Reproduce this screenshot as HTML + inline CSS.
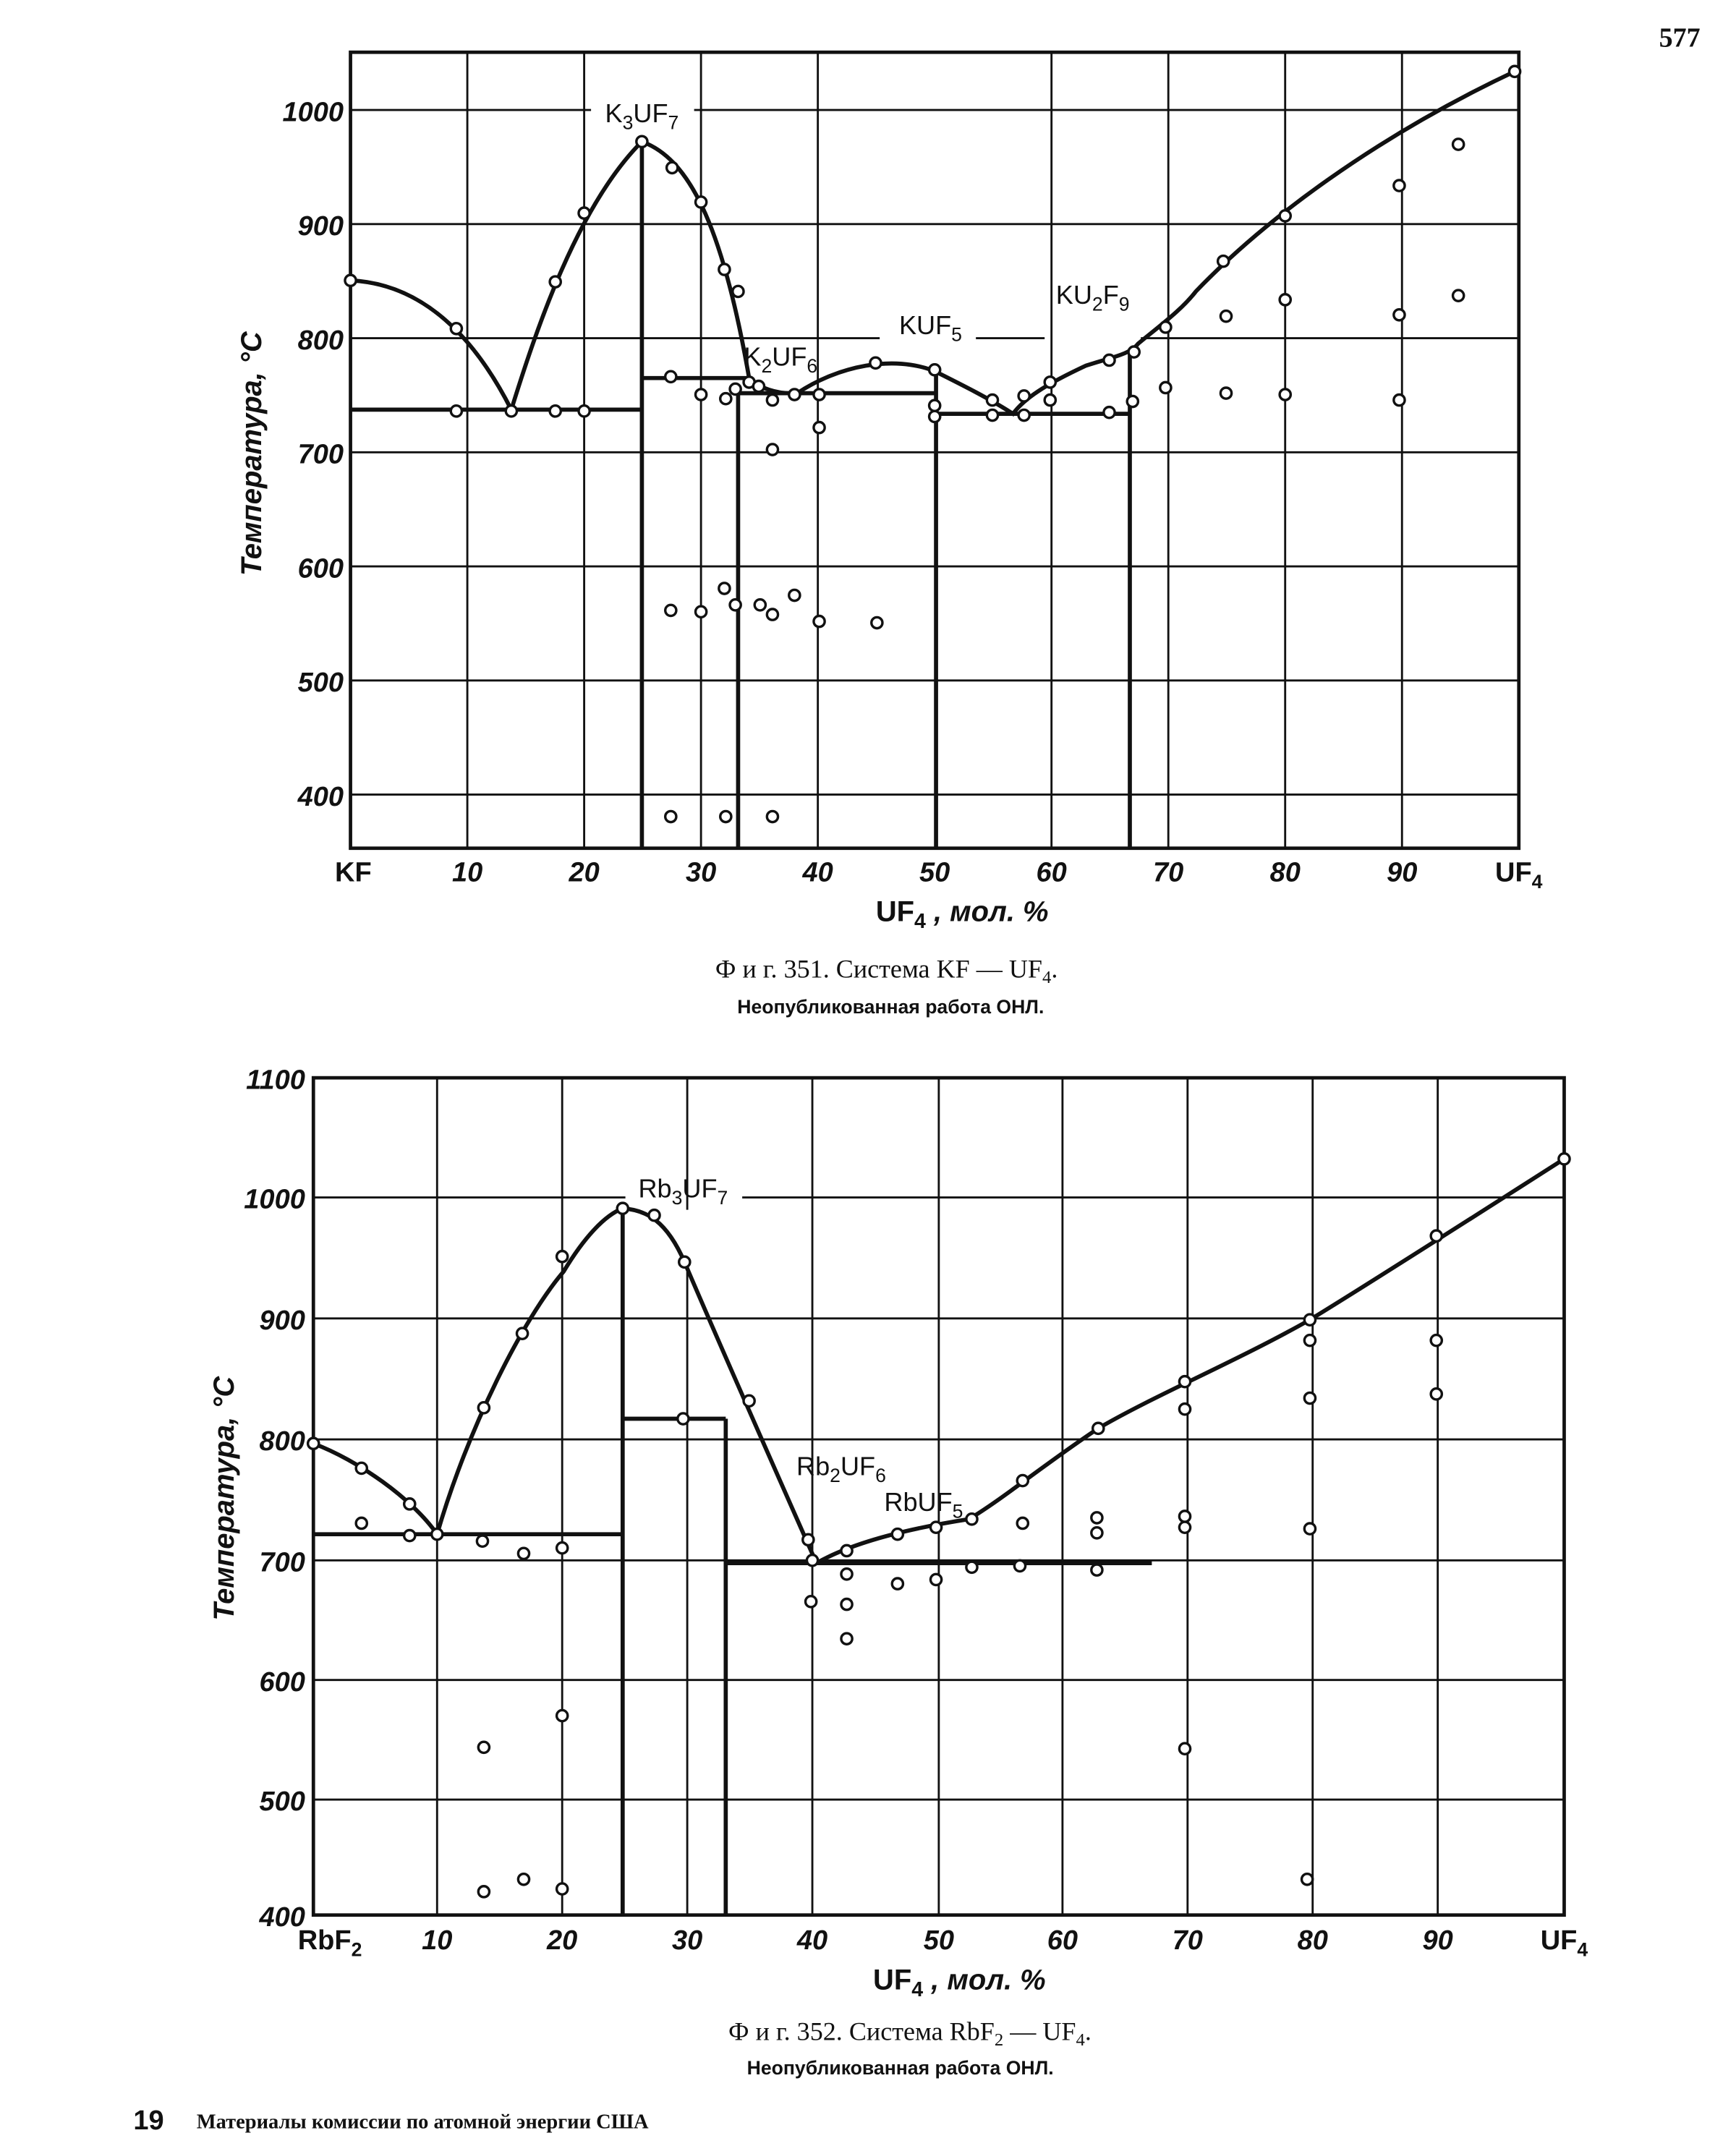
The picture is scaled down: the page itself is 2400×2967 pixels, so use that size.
<!DOCTYPE html>
<html><head><meta charset="utf-8"><style>
html,body{margin:0;padding:0;background:#fff}
svg{display:block}
text{font-family:"Liberation Sans",sans-serif;fill:#111}
.t{font-size:20px;font-style:italic;font-weight:bold}
.s{font-family:"Liberation Serif",serif}
</style></head><body>
<svg width="2400" height="2967" viewBox="0 0 1263 1561" preserveAspectRatio="none" xmlns="http://www.w3.org/2000/svg">
<rect width="1263" height="1561" fill="#fff"/>
<text x="1222" y="34" class="s" font-size="20" font-weight="bold" text-anchor="middle">577</text>
<!-- TOP CHART -->
<g stroke="#111" fill="none">
<rect x="255" y="38" width="850" height="579" stroke-width="2.5"/>
<g stroke-width="1.5">
<path d="M340 38V617M425 38V617M510 38V617M595 38V617M765 38V617M850 38V617M935 38V617M1020 38V617"/>
<path d="M255 80H430M505 80H1105M255 163H1105M255 246H640M710 246H760M830 246H1105M255 329H1105M255 412H1105M255 495H1105M255 578H1105"/>
</g>
<g stroke-width="3">
<path d="M255 204C300 206 340 235 372 298"/>
<path d="M372 298C390 240 420 150 467 103C500 115 525 160 545 275C552 282 565 287 580 286C610 266 650 258 680 270C700 280 720 290 737 301C745 290 760 280 790 266C808 260 822 258 828 250C845 236 860 225 870 212C920 160 1000 100 1102 52"/>
<path d="M255 298H467M467 275H545M537 286H681M681 301H822"/>
<path d="M467 103V617M537 286V617M681 269V617M822 256V617"/>
</g>
</g>
<g fill="#fff" stroke="#111" stroke-width="1.8">
<circle cx="255" cy="204" r="4"/><circle cx="332" cy="239" r="4"/><circle cx="332" cy="299" r="4"/><circle cx="372" cy="299" r="4"/><circle cx="404" cy="299" r="4"/><circle cx="425" cy="299" r="4"/><circle cx="404" cy="205" r="4"/><circle cx="425" cy="155" r="4"/><circle cx="467" cy="103" r="4"/><circle cx="489" cy="122" r="4"/><circle cx="510" cy="147" r="4"/><circle cx="527" cy="196" r="4"/><circle cx="537" cy="212" r="4"/><circle cx="488" cy="274" r="4"/><circle cx="510" cy="287" r="4"/><circle cx="528" cy="290" r="4"/><circle cx="535" cy="283" r="4"/><circle cx="545" cy="278" r="4"/><circle cx="552" cy="281" r="4"/><circle cx="562" cy="291" r="4"/><circle cx="578" cy="287" r="4"/><circle cx="596" cy="287" r="4"/><circle cx="596" cy="311" r="4"/><circle cx="562" cy="327" r="4"/><circle cx="637" cy="264" r="4"/><circle cx="680" cy="269" r="4"/><circle cx="680" cy="295" r="4"/><circle cx="680" cy="303" r="4"/><circle cx="722" cy="291" r="4"/><circle cx="722" cy="302" r="4"/><circle cx="745" cy="288" r="4"/><circle cx="745" cy="302" r="4"/><circle cx="764" cy="278" r="4"/><circle cx="764" cy="291" r="4"/><circle cx="807" cy="262" r="4"/><circle cx="807" cy="300" r="4"/><circle cx="825" cy="256" r="4"/><circle cx="824" cy="292" r="4"/><circle cx="848" cy="238" r="4"/><circle cx="848" cy="282" r="4"/><circle cx="890" cy="190" r="4"/><circle cx="892" cy="230" r="4"/><circle cx="892" cy="286" r="4"/><circle cx="935" cy="157" r="4"/><circle cx="935" cy="218" r="4"/><circle cx="935" cy="287" r="4"/><circle cx="1018" cy="135" r="4"/><circle cx="1018" cy="229" r="4"/><circle cx="1018" cy="291" r="4"/><circle cx="1061" cy="105" r="4"/><circle cx="1061" cy="215" r="4"/><circle cx="1102" cy="52" r="4"/>
<circle cx="488" cy="444" r="4"/><circle cx="510" cy="445" r="4"/><circle cx="527" cy="428" r="4"/><circle cx="535" cy="440" r="4"/><circle cx="553" cy="440" r="4"/><circle cx="562" cy="447" r="4"/><circle cx="578" cy="433" r="4"/><circle cx="596" cy="452" r="4"/><circle cx="638" cy="453" r="4"/><circle cx="488" cy="594" r="4"/><circle cx="528" cy="594" r="4"/><circle cx="562" cy="594" r="4"/>
</g>
<g class="t" text-anchor="end">
<text x="250" y="88">1000</text><text x="250" y="171">900</text><text x="250" y="254">800</text><text x="250" y="337">700</text><text x="250" y="420">600</text><text x="250" y="503">500</text><text x="250" y="586">400</text>
</g>
<g class="t" text-anchor="middle">
<text x="257" y="641" font-style="normal">KF</text><text x="340" y="641">10</text><text x="425" y="641">20</text><text x="510" y="641">30</text><text x="595" y="641">40</text><text x="680" y="641">50</text><text x="765" y="641">60</text><text x="850" y="641">70</text><text x="935" y="641">80</text><text x="1020" y="641">90</text><text x="1105" y="641" font-style="normal">UF<tspan font-size="14" dy="5">4</tspan></text>
</g>
<text x="700" y="670" font-size="21" font-weight="bold" text-anchor="middle">UF<tspan font-size="15" dy="5">4</tspan><tspan dy="-5" font-style="italic"> , мол. %</tspan></text>
<text transform="translate(190,330) rotate(-90)" font-size="21" font-style="italic" font-weight="bold" text-anchor="middle">Температура, °C</text>
<text x="467" y="89" font-size="19" text-anchor="middle">K<tspan font-size="14" dy="5">3</tspan><tspan dy="-5">UF</tspan><tspan font-size="14" dy="5">7</tspan></text>
<text x="568" y="266" font-size="19" text-anchor="middle">K<tspan font-size="14" dy="5">2</tspan><tspan dy="-5">UF</tspan><tspan font-size="14" dy="5">6</tspan></text>
<text x="677" y="243" font-size="19" text-anchor="middle">KUF<tspan font-size="14" dy="5">5</tspan></text>
<text x="795" y="221" font-size="19" text-anchor="middle">KU<tspan font-size="14" dy="5">2</tspan><tspan dy="-5">F</tspan><tspan font-size="14" dy="5">9</tspan></text>
<text x="645" y="711" class="s" font-size="19" text-anchor="middle">Ф и г. 351. Система KF — UF<tspan font-size="13" dy="4">4</tspan><tspan dy="-4">.</tspan></text>
<text x="648" y="737" font-size="14" font-weight="bold" text-anchor="middle">Неопубликованная работа ОНЛ.</text>
<!-- BOTTOM CHART -->
<g stroke="#111" fill="none">
<rect x="228" y="784" width="910" height="609" stroke-width="2.5"/>
<g stroke-width="1.5">
<path d="M318 784V1393M409 784V1393M500 784V880M500 925V1393M591 784V1393M683 784V1393M773 784V1393M864 784V1393M955 784V1393M1046 784V1393"/>
<path d="M228 871H455M540 871H1138M228 959H1138M228 1047H1138M228 1135H1138M228 1222H1138M228 1309H1138"/>
</g>
<g stroke-width="3">
<path d="M228 1050C260 1062 300 1090 318 1116"/>
<path d="M318 1116C340 1040 380 960 410 925C425 900 440 884 453 879C470 880 485 888 498 918C520 970 560 1060 594 1137C620 1122 660 1112 705 1105C730 1090 760 1065 799 1039C840 1015 900 990 953 960C1010 925 1080 880 1138 843"/>
<path d="M228 1116H453M453 1032H528M528 1137H838"/>
<path d="M453 879V1393M528 1032V1393"/>
</g>
</g>
<g fill="#fff" stroke="#111" stroke-width="1.8">
<circle cx="228" cy="1050" r="4"/><circle cx="263" cy="1068" r="4"/><circle cx="298" cy="1094" r="4"/><circle cx="318" cy="1116" r="4"/><circle cx="263" cy="1108" r="4"/><circle cx="298" cy="1117" r="4"/><circle cx="352" cy="1024" r="4"/><circle cx="380" cy="970" r="4"/><circle cx="409" cy="914" r="4"/><circle cx="453" cy="879" r="4"/><circle cx="476" cy="884" r="4"/><circle cx="498" cy="918" r="4"/><circle cx="545" cy="1019" r="4"/><circle cx="588" cy="1120" r="4"/><circle cx="591" cy="1135" r="4"/><circle cx="616" cy="1128" r="4"/><circle cx="653" cy="1116" r="4"/><circle cx="681" cy="1111" r="4"/><circle cx="707" cy="1105" r="4"/><circle cx="744" cy="1077" r="4"/><circle cx="799" cy="1039" r="4"/><circle cx="862" cy="1005" r="4"/><circle cx="953" cy="960" r="4"/><circle cx="1045" cy="899" r="4"/><circle cx="1138" cy="843" r="4"/><circle cx="497" cy="1032" r="4"/><circle cx="351" cy="1121" r="4"/><circle cx="381" cy="1130" r="4"/><circle cx="409" cy="1126" r="4"/><circle cx="590" cy="1165" r="4"/><circle cx="616" cy="1145" r="4"/><circle cx="616" cy="1167" r="4"/><circle cx="616" cy="1192" r="4"/><circle cx="653" cy="1152" r="4"/><circle cx="681" cy="1149" r="4"/><circle cx="707" cy="1140" r="4"/><circle cx="744" cy="1108" r="4"/><circle cx="742" cy="1139" r="4"/><circle cx="798" cy="1104" r="4"/><circle cx="798" cy="1115" r="4"/><circle cx="798" cy="1142" r="4"/><circle cx="862" cy="1103" r="4"/><circle cx="862" cy="1111" r="4"/><circle cx="862" cy="1025" r="4"/><circle cx="953" cy="975" r="4"/><circle cx="953" cy="1017" r="4"/><circle cx="953" cy="1112" r="4"/><circle cx="1045" cy="975" r="4"/><circle cx="1045" cy="1014" r="4"/><circle cx="352" cy="1271" r="4"/><circle cx="409" cy="1248" r="4"/><circle cx="352" cy="1376" r="4"/><circle cx="381" cy="1367" r="4"/><circle cx="409" cy="1374" r="4"/><circle cx="862" cy="1272" r="4"/><circle cx="951" cy="1367" r="4"/>
</g>
<g class="t" text-anchor="end">
<text x="222" y="792">1100</text><text x="222" y="879">1000</text><text x="222" y="967">900</text><text x="222" y="1055">800</text><text x="222" y="1143">700</text><text x="222" y="1230">600</text><text x="222" y="1317">500</text><text x="222" y="1401">400</text>
</g>
<g class="t" text-anchor="middle">
<text x="240" y="1418" font-style="normal">RbF<tspan font-size="14" dy="5">2</tspan></text><text x="318" y="1418">10</text><text x="409" y="1418">20</text><text x="500" y="1418">30</text><text x="591" y="1418">40</text><text x="683" y="1418">50</text><text x="773" y="1418">60</text><text x="864" y="1418">70</text><text x="955" y="1418">80</text><text x="1046" y="1418">90</text><text x="1138" y="1418" font-style="normal">UF<tspan font-size="14" dy="5">4</tspan></text>
</g>
<text x="698" y="1447" font-size="21" font-weight="bold" text-anchor="middle">UF<tspan font-size="15" dy="5">4</tspan><tspan dy="-5" font-style="italic"> , мол. %</tspan></text>
<text transform="translate(170,1090) rotate(-90)" font-size="21" font-style="italic" font-weight="bold" text-anchor="middle">Температура, °C</text>
<text x="497" y="871" font-size="19" text-anchor="middle">Rb<tspan font-size="14" dy="5">3</tspan><tspan dy="-5">UF</tspan><tspan font-size="14" dy="5">7</tspan></text>
<text x="612" y="1073" font-size="19" text-anchor="middle">Rb<tspan font-size="14" dy="5">2</tspan><tspan dy="-5">UF</tspan><tspan font-size="14" dy="5">6</tspan></text>
<text x="672" y="1099" font-size="19" text-anchor="middle">RbUF<tspan font-size="14" dy="5">5</tspan></text>
<text x="662" y="1484" class="s" font-size="19" text-anchor="middle">Ф и г. 352. Система RbF<tspan font-size="13" dy="4">2</tspan><tspan dy="-4"> — UF</tspan><tspan font-size="13" dy="4">4</tspan><tspan dy="-4">.</tspan></text>
<text x="655" y="1509" font-size="14" font-weight="bold" text-anchor="middle">Неопубликованная работа ОНЛ.</text>
<text x="97" y="1549" font-size="20" font-weight="bold">19</text>
<text x="143" y="1548" class="s" font-size="15" font-weight="bold">Материалы комиссии по атомной энергии США</text>
</svg>
</body></html>
